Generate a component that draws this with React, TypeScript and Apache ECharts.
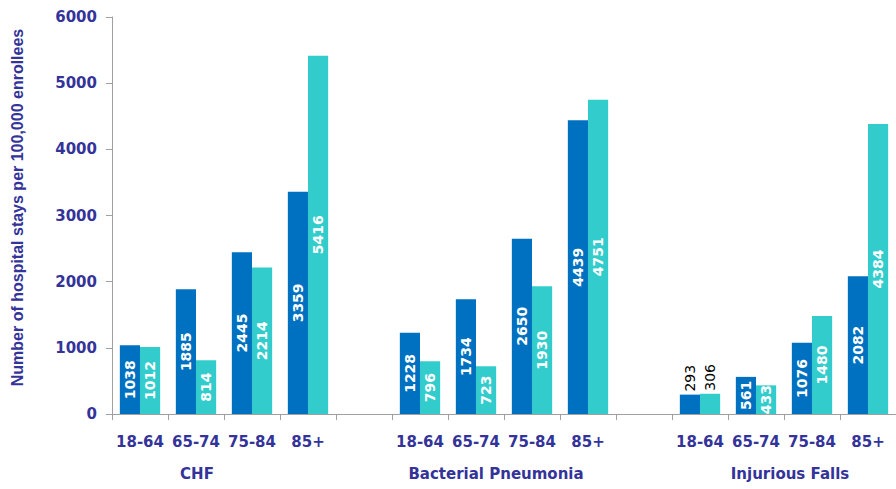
import React, { useEffect, useRef } from "react";
import * as echarts from "echarts";

const groups = ["CHF", "Bacterial Pneumonia", "Injurious Falls"];
const ages = ["18-64", "65-74", "75-84", "85+"];
const seriesA = [1038, 1885, 2445, 3359, 1228, 1734, 2650, 4439, 293, 561, 1076, 2082];
const seriesB = [1012, 814, 2214, 5416, 796, 723, 1930, 4751, 306, 433, 1480, 4384];
const yTicks = { min: 0, max: 6000, interval: 1000 };
const yTitle = "Number of hospital stays per 100,000 enrollees";
const groupLabelX = [197, 496, 790];

const NAVY = "#333399";
const FONT = "DejaVu Sans";

export default function App() {
  const ref = useRef<HTMLDivElement>(null);
  useEffect(() => {
    if (!ref.current) return;
    const chart = echarts.init(ref.current, undefined, { renderer: "svg" });

    const cats: string[] = [];
    const idxMap: number[] = [];
    groups.forEach((g, gi) => {
      ages.forEach((a, ai) => {
        cats.push(g + "|" + a);
        idxMap.push(gi * ages.length + ai);
      });
      if (gi < groups.length - 1) {
        cats.push("gap" + gi);
        idxMap.push(-1);
      }
    });

    const mk = (vals: number[]) =>
      idxMap.map((i) => {
        if (i < 0) return "-";
        const v = vals[i];
        if (v < 400) {
          return {
            value: v,
            label: {
              show: true,
              position: "top",
              rotate: 90,
              align: "left",
              verticalAlign: "middle",
              distance: 3,
              color: "#000",
              fontWeight: "normal",
              fontSize: 14,
              fontFamily: FONT,
            },
          };
        }
        return { value: v };
      });

    const insideLabel = {
      show: true,
      position: "inside",
      rotate: 90,
      color: "#fff",
      fontWeight: "bold",
      fontSize: 14,
      fontFamily: FONT,
    };

    chart.setOption({
      animation: false,
      grid: { left: 112, right: 0, top: 17, bottom: 75, containLabel: false },
      xAxis: {
        type: "category",
        data: cats,
        axisLine: { show: true, lineStyle: { color: "#A0A0A0", width: 1 } },
        axisTick: { show: true, length: 6, lineStyle: { color: "#A0A0A0" } },
        axisLabel: {
          margin: 20,
          color: NAVY,
          fontWeight: "bold",
          fontSize: 15,
          fontFamily: FONT,
          interval: 0,
          formatter: (v: string) => (v.indexOf("|") >= 0 ? v.split("|")[1] : ""),
        },
      },
      yAxis: {
        type: "value",
        min: yTicks.min,
        max: yTicks.max,
        interval: yTicks.interval,
        name: yTitle,
        nameLocation: "middle",
        nameGap: 87,
        nameTextStyle: {
          color: NAVY,
          fontWeight: "bold",
          fontSize: 16,
          fontFamily: "Liberation Sans",
          padding: [0, 0, 0, 16],
        },
        axisLine: { show: true, lineStyle: { color: "#A0A0A0", width: 1 } },
        axisTick: { show: true, length: 6, lineStyle: { color: "#A0A0A0" } },
        splitLine: { show: false },
        axisLabel: {
          margin: 15,
          color: NAVY,
          fontWeight: "bold",
          fontSize: 15,
          fontFamily: FONT,
          formatter: (v: number) => String(v),
        },
      },
      series: [
        {
          type: "bar",
          data: mk(seriesA),
          itemStyle: { color: "#0070C0" },
          barGap: "0%",
          barCategoryGap: "28%",
          label: insideLabel,
        },
        {
          type: "bar",
          data: mk(seriesB),
          itemStyle: { color: "#33CCCC" },
          barGap: "0%",
          barCategoryGap: "28%",
          label: insideLabel,
        },
      ],
      graphic: groups.map((g, i) => ({
        type: "text",
        x: groupLabelX[i],
        y: 474,
        style: {
          text: g,
          fill: NAVY,
          font: `bold 15px "${FONT}"`,
          textAlign: "center",
          textVerticalAlign: "middle",
        },
      })),
    });
    return () => chart.dispose();
  }, []);
  return (
    <div
      ref={ref}
      style={{ position: "fixed", left: 0, top: 0, width: 896, height: 489, background: "#fff" }}
    />
  );
}
